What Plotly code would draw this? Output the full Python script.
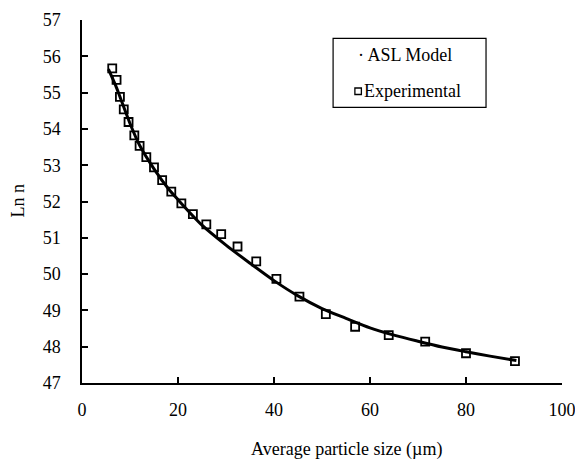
import plotly.graph_objects as go

exp_x = [6.3, 7.2, 7.9, 8.7, 9.7, 10.9, 12.0, 13.4, 15.0, 16.7, 18.6, 20.7, 23.1,
         25.9, 29.0, 32.4, 36.3, 40.5, 45.3, 50.8, 56.9, 63.9, 71.5, 80.0, 90.2]
exp_y = [55.67, 55.35, 54.88, 54.54, 54.19, 53.82, 53.53, 53.22, 52.94, 52.59, 52.27, 51.95, 51.65,
         51.37, 51.10, 50.76, 50.35, 49.87, 49.38, 48.90, 48.55, 48.32, 48.14, 47.82, 47.60]

# ASL model curve
model_x = [5.5, 7, 8, 10, 12, 15, 18, 20, 25, 30, 35, 40, 45, 50, 55, 60, 65, 70, 75, 80, 85, 90.5]
model_y = [55.65, 55.2, 54.85, 54.15, 53.55, 52.9, 52.35, 52.05, 51.35, 50.8, 50.3, 49.82,
           49.4, 49.05, 48.78, 48.52, 48.32, 48.15, 47.99, 47.86, 47.74, 47.62]

x_ticks = [0, 20, 40, 60, 80, 100]
y_ticks = [47, 48, 49, 50, 51, 52, 53, 54, 55, 56, 57]

series_names = ["ASL Model", "Experimental"]
x_title = "Average particle size (µm)"
y_title = "Ln n"

FONT = "Liberation Serif, Times New Roman, serif"

W, H = 575, 459
L, R, T, B = 81.5, 13.3, 20, 76
pw, ph = W - L - R, H - T - B

def px(x):
    return (x - L) / pw

def py(y):
    return (H - B - y) / ph

fig = go.Figure()
fig.add_trace(go.Scatter(x=model_x, y=model_y, mode="lines", name=series_names[0],
                         line=dict(color="black", width=3, shape="spline", smoothing=0.8),
                         showlegend=False))
fig.add_trace(go.Scatter(x=exp_x, y=exp_y, mode="markers", name=series_names[1],
                         marker=dict(symbol="square-open", size=8, color="black",
                                     line=dict(color="black", width=1.8)),
                         showlegend=False))

axis_common = dict(showline=True, linecolor="black", linewidth=1.5, ticks="inside",
                   ticklen=6, tickwidth=1.5, tickcolor="black", showgrid=False,
                   zeroline=False, mirror=False, ticklabeloverflow="allow",
                   tickfont=dict(family=FONT, size=18, color="black"))

fig.update_xaxes(range=[0, 100], tickvals=x_ticks, ticktext=[str(v) for v in x_ticks],
                 ticklabelstandoff=10, **axis_common)
fig.update_yaxes(range=[47, 57], tickvals=y_ticks, ticktext=[str(v) for v in y_ticks],
                 ticklabelstandoff=16, **axis_common)

shapes = [
    # legend box
    dict(type="rect", xref="paper", yref="paper", x0=px(332.7), x1=px(485.7),
         y0=py(107.3), y1=py(38.3), line=dict(color="black", width=1.2), fillcolor="white"),
    # legend square marker
    dict(type="rect", xref="paper", yref="paper", x0=px(354.5), x1=px(361),
         y0=py(94.5), y1=py(88), line=dict(color="black", width=1.3)),
]

annotations = [
    dict(text="· " + series_names[0], xref="paper", yref="paper", x=px(355.5), y=py(55),
         xanchor="left", yanchor="middle", showarrow=False,
         font=dict(family=FONT, size=18, color="black")),
    dict(text=series_names[1], xref="paper", yref="paper", x=px(362), y=py(91),
         xanchor="left", yanchor="middle", showarrow=False,
         font=dict(family=FONT, size=18, color="black")),
    dict(text=x_title, xref="paper", yref="paper", x=px(346), y=py(449),
         xanchor="center", yanchor="middle", showarrow=False,
         font=dict(family=FONT, size=18, color="black")),
    dict(text=y_title, xref="paper", yref="paper", x=px(17), y=py(201),
         xanchor="center", yanchor="middle", showarrow=False, textangle=-90,
         font=dict(family=FONT, size=18, color="black")),
]

fig.update_layout(width=W, height=H, margin=dict(l=L, r=R, t=T, b=B, autoexpand=False),
                  plot_bgcolor="white", paper_bgcolor="white", shapes=shapes,
                  annotations=annotations, showlegend=False,
                  font=dict(family=FONT, size=18, color="black"))

fig.write_html("out.html", config={"displayModeBar": False},
               post_script="document.body.style.margin='0';document.body.style.overflow='hidden';")
